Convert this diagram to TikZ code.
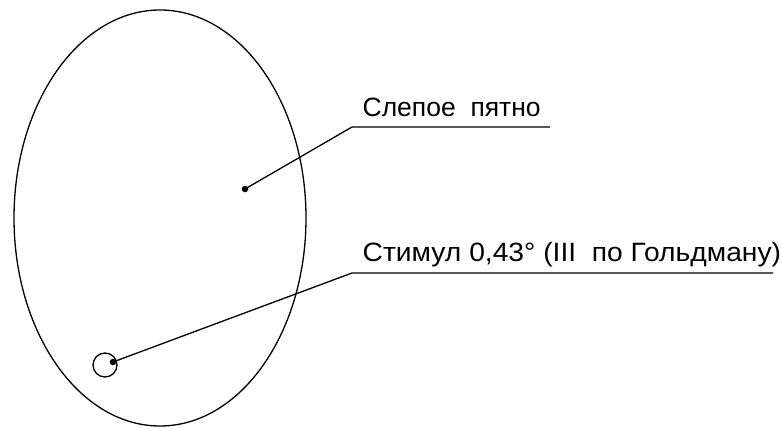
\documentclass[tikz,border=0pt]{standalone}
\usepackage{fontspec}
\setmainfont{Liberation Sans}
\usetikzlibrary{positioning}
\begin{document}
\begin{tikzpicture}[x=1pt,y=-1pt,line width=1.3pt,
  lbl/.style={anchor=base west,inner sep=0pt,
              font=\fontsize{26.5}{30}\selectfont},
  spot/.style={circle,fill,inner sep=0pt,minimum size=6.5pt},
  stimring/.style={circle,draw,inner sep=0pt,minimum size=24pt},
]
\useasboundingbox (0,0) rectangle (782,428);
% field of view
\draw (160,218) ellipse [x radius=146pt,y radius=208pt];

\node[spot] (blind) at (245,189) {};
\node[stimring] (stim) at (105,365) {};
\node[spot] (stimdot) at (113,362) {};

\coordinate (k1) at (352,127);
\coordinate (e1) at (550,127);
\coordinate (k2) at (352,273);
\coordinate (e2) at (773,273);

\node[lbl] (t1) at (362,116) {Слепое~ пятно};
\node[lbl] (t2) at (362,261) {\scalebox{1.065}[1]{Стимул 0,43° (III~ по Гольдману)}};

\draw (blind.center) -- (k1) -- (e1);
\draw (stimdot.center) -- (k2) -- (e2);
\end{tikzpicture}
\end{document}
